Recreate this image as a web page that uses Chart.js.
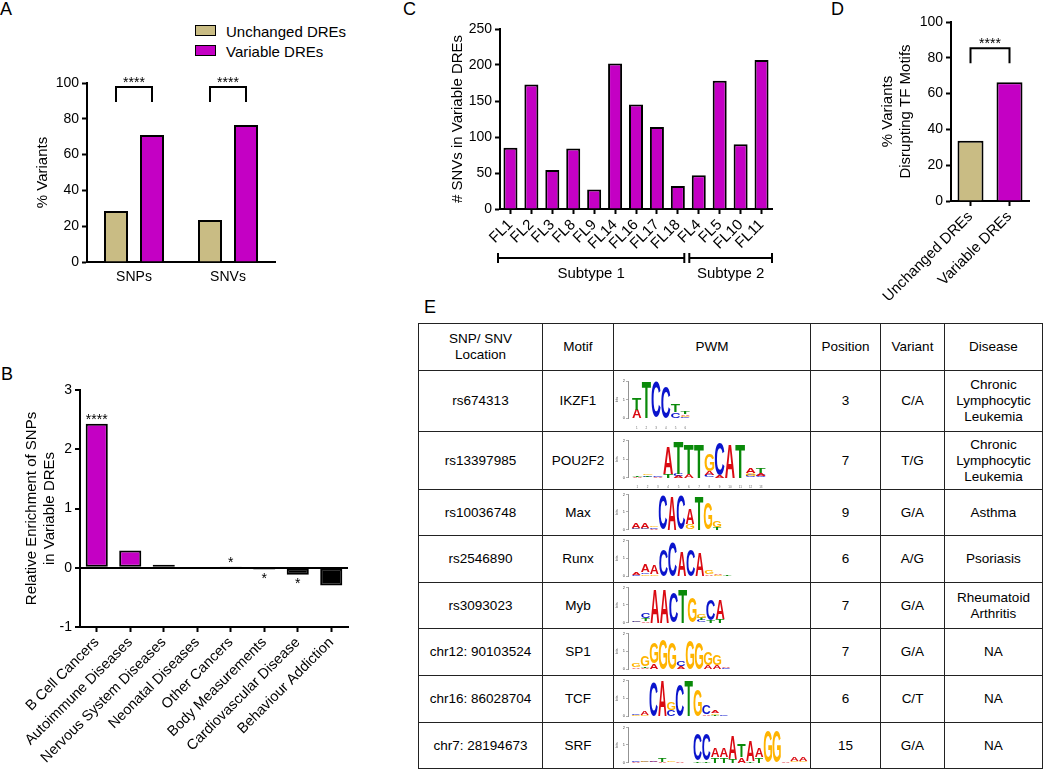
<!DOCTYPE html>
<html>
<head>
<meta charset="utf-8">
<script src="https://cdn.jsdelivr.net/npm/chart.js@4.4.0/dist/chart.umd.min.js"></script>
<style>
  body { margin: 0; background: #fff; width: 1050px; height: 771px; position: relative; overflow: hidden;
         font-family: 'Liberation Sans', Arial, Helvetica, sans-serif; color: #000; }
  canvas { position: absolute; }
  .panel { position: absolute; font-size: 18px; line-height: 18px; }
  .leg { position: absolute; font-size: 15px; line-height: 15px; white-space: nowrap; }
  .box { position: absolute; width: 19px; height: 9px; border: 1.5px solid #000; }
  table { position: absolute; left: 418px; top: 323px; border-collapse: collapse; table-layout: fixed;
          font-size: 13.5px; }
  td { border: 1.5px solid #222; text-align: center; vertical-align: middle; padding: 0; line-height: 16px; }
</style>
</head>
<body>
<div class="panel" style="left:0px;top:0px">A</div>
<div class="panel" style="left:403px;top:0px">C</div>
<div class="panel" style="left:831px;top:0px">D</div>
<div class="panel" style="left:1px;top:365px">B</div>
<div class="panel" style="left:424px;top:298px">E</div>

<div class="box" style="left:195px;top:25px;background:#C9BC84"></div>
<div class="leg" style="left:226px;top:24px">Unchanged DREs</div>
<div class="box" style="left:195px;top:45px;background:#C400C4"></div>
<div class="leg" style="left:226px;top:44px">Variable DREs</div>

<script>
// ---- data ----
const panelA_categories = ['SNPs', 'SNVs'];
const panelA_unchanged = [28.5, 23.5];
const panelA_variable = [71, 76.5];
const panelA_significance = ['****', '****'];

const panelB_categories = ['B Cell Cancers', 'Autoimmune Diseases', 'Nervous System Diseases', 'Neonatal Diseases',
  'Other Cancers', 'Body Measurements', 'Cardiovascular Disease', 'Behaviour Addiction'];
const panelB_values = [2.43, 0.29, 0.05, 0.015, 0.01, -0.03, -0.12, -0.30];
const panelB_significance = ['****', '', '', '', '*', '*', '*', ''];

const panelC_samples = ['FL1', 'FL2', 'FL3', 'FL8', 'FL9', 'FL14', 'FL16', 'FL17', 'FL18', 'FL4', 'FL5', 'FL10', 'FL11'];
const panelC_values = [85, 173, 54, 84, 27, 202, 145, 114, 32, 47, 178, 90, 207];
const subtypeLabels = ['Subtype 1', 'Subtype 2'];
const subtypeStart = [0, 9];
const subtypeEnd = [8, 12];

const panelD_categories = ['Unchanged DREs', 'Variable DREs'];
const panelD_values = [33.6, 66.4];
const panelD_significance = '****';

const tableHeader = ['SNP/ SNV\nLocation', 'Motif', 'PWM', 'Position', 'Variant', 'Disease'];
const snpLocations = ['rs674313', 'rs13397985', 'rs10036748', 'rs2546890', 'rs3093023',
  'chr12: 90103524', 'chr16: 86028704', 'chr7: 28194673'];
const motifNames = ['IKZF1', 'POU2F2', 'Max', 'Runx', 'Myb', 'SP1', 'TCF', 'SRF'];
const motifPositions = [3, 7, 9, 6, 7, 7, 6, 15];
const variants = ['C/A', 'T/G', 'G/A', 'A/G', 'G/A', 'G/A', 'C/T', 'G/A'];
const diseases = ['Chronic\nLymphocytic\nLeukemia', 'Chronic\nLymphocytic\nLeukemia', 'Asthma', 'Psoriasis',
  'Rheumatoid\nArthritis', 'NA', 'NA', 'NA'];

// sequence logos, bits per letter in each column
const logoIKZF1 = [{A:.45,T:.6},{T:1.95},{C:1.95},{C:1.7},{C:.3,T:.4},{A:.08,C:.05,G:.07,T:.1}];
const logoPOU2F2 = [{A:.03,T:.03},{G:.08,C:.05,T:.07},{A:.03,C:.03},{T:.2,A:1.5},{A:.1,C:.1,T:1.75},{A:.2,T:1.6},
  {T:1.85},{A:.2,C:.15,G:.9},{A:.1,C:1.75},{A:1.85},{T:1.85},{C:.1,G:.15,A:.3},{C:.1,A:.12,T:.25}];
const logoMax = [{G:.05,C:.05,A:.3},{G:.05,C:.05,A:.3},{A:.05,C:.07,G:.08},{C:1.95},{A:1.95},{C:1.95},
  {G:.3,A:.9},{T:1.95},{G:1.5},{T:.15,G:.35}];
const logoRunx = [{C:.05,A:.15},{G:.1,C:.1,A:.4},{G:.1,A:.5},{C:1.5},{C:1.95},{A:1.4},{C:1.5},{A:1.3},
  {A:.1,G:.25},{G:.05,A:.08},{T:.03}];
const logoMyb = [{G:.05,C:.05},{A:.08,T:.15,C:.3},{A:1.95},{A:1.95},{C:1.7},{T:1.95},{G:1.4},{C:.12,T:.12,G:.2},
  {T:.15,C:1.2},{T:.2,A:1.1}];
const logoSP1 = [{A:.1,G:.25},{A:.08,T:.1,G:.6},{A:.3,G:1.2},{G:1.7},{G:1.5},{A:.15,C:.3},{G:1.6},{G:1.5},
  {A:.2,G:.7},{A:.2,G:.6},{C:.08,A:.1}];
const logoTCF = [{G:.05,C:.07},{G:.07,A:.2},{C:1.95},{A:1.95},{C:.35,G:.45},{C:1.8},{T:1.95},{G:1.5},
  {A:.1,C:.5},{T:.08,G:.08,A:.15},{C:.03}];
const logoSRF = [{A:.03,C:.03},{C:.03,G:.04},{C:.05,A:.06},{A:.05,T:.2},{G:.1},{A:.03},{T:.02},{T:.1,C:1.5},
  {T:.1,C:1.5},{T:.3,A:.5},{T:.3,A:.5},{T:.2,A:1.3},{A:.3,T:.7},{T:.1,A:1.2},{T:.3,A:.5},{G:1.8},{G:1.8},
  {A:.03},{G:.1,A:.25},{G:.1,A:.25}];
const motifLogos = [logoIKZF1, logoPOU2F2, logoMax, logoRunx, logoMyb, logoSP1, logoTCF, logoSRF];

// ---- styles ----
const TAN = '#C9BC84';
const MAGENTA = '#C400C4';
const FONT = "'Liberation Sans', Arial, Helvetica, sans-serif";
const LETTER_COLORS = {A: '#DA0A12', C: '#0A14CC', G: '#FFB400', T: '#0A8A0A'};
const logoColumnWidth = [9.7, 10.3, 9, 9.1, 9.3, 9, 8.8, 8.8];
const tableColumnWidths = [124, 71, 197, 70, 64, 98];
const tableRowHeights = [47, 61, 58, 46, 47, 46, 47, 47, 46];

Chart.defaults.font.family = FONT;
Chart.defaults.color = '#000';
Chart.defaults.animation = false;

function makeCanvas(left, top, w, h) {
  const c = document.createElement('canvas');
  c.width = w; c.height = h;
  c.style.left = left + 'px'; c.style.top = top + 'px';
  c.style.width = w + 'px'; c.style.height = h + 'px';
  document.body.appendChild(c);
  return c;
}

function yAxis(o) {
  return {
    min: o.min, max: o.max,
    ticks: {stepSize: o.step, font: {size: 14}, color: '#000', padding: 3},
    grid: Object.assign({drawOnChartArea: false, drawTicks: true, tickLength: 5, tickColor: '#000', tickWidth: 2}, o.grid || {}),
    border: {display: true, color: '#000', width: 2},
    title: {display: true, text: o.title, font: {size: 15}, color: '#000', padding: {top: o.titlePad, bottom: 0}},
    afterFit: s => { s.width = o.width; }
  };
}

function xAxis(o) {
  return {
    ticks: {font: {size: o.font}, color: '#000', padding: o.pad, autoSkip: false, minRotation: o.rot, maxRotation: o.rot},
    grid: {offset: false, drawOnChartArea: false, drawTicks: o.ticks, tickLength: 5, tickColor: '#000', tickWidth: 2},
    border: {display: true, color: '#000', width: 2},
    afterFit: s => { s.height = o.height; }
  };
}

function drawStars(ctx, label, x, cy) {
  if (!label) return;
  ctx.save();
  ctx.font = '14px ' + FONT;
  ctx.fillStyle = '#000';
  ctx.textAlign = 'center';
  ctx.textBaseline = 'alphabetic';
  const m = ctx.measureText(label);
  ctx.fillText(label, x, cy + (m.actualBoundingBoxAscent - m.actualBoundingBoxDescent) / 2);
  ctx.restore();
}

function drawBracket(ctx, x1, x2, yTop, yLeg, label) {
  ctx.save();
  ctx.strokeStyle = '#000';
  ctx.lineWidth = 2;
  ctx.beginPath();
  ctx.moveTo(x1, yLeg); ctx.lineTo(x1, yTop); ctx.lineTo(x2, yTop); ctx.lineTo(x2, yLeg);
  ctx.stroke();
  ctx.restore();
  drawStars(ctx, label, (x1 + x2) / 2, yTop - 7);
}

const barStyle = {borderColor: '#000', borderWidth: 2, borderSkipped: 'start'};

// ---- panel A ----
new Chart(makeCanvas(0, 60, 290, 240), {
  type: 'bar',
  data: {
    labels: panelA_categories,
    datasets: [
      Object.assign({label: 'Unchanged DREs', data: panelA_unchanged, backgroundColor: TAN}, barStyle),
      Object.assign({label: 'Variable DREs', data: panelA_variable, backgroundColor: MAGENTA}, barStyle)
    ]
  },
  options: {
    responsive: false, devicePixelRatio: 1,
    layout: {padding: {top: 23, right: 15, left: 0, bottom: 0}},
    plugins: {legend: {display: false}, tooltip: {enabled: false}},
    datasets: {bar: {categoryPercentage: 0.766, barPercentage: 0.667}},
    scales: {
      x: xAxis({font: 14, pad: 7, rot: 0, ticks: false, height: 38}),
      y: yAxis({min: 0, max: 100, step: 20, title: '% Variants', titlePad: 34, width: 87})
    }
  },
  plugins: [{
    id: 'bracketsA',
    afterDatasetsDraw(chart) {
      const y = chart.scales.y;
      const m0 = chart.getDatasetMeta(0), m1 = chart.getDatasetMeta(1);
      panelA_categories.forEach((c, i) => {
        drawBracket(chart.ctx, m0.data[i].x, m1.data[i].x, y.getPixelForValue(97.8), y.getPixelForValue(89.4), panelA_significance[i]);
      });
    }
  }]
});

// ---- panel C ----
new Chart(makeCanvas(400, 10, 385, 290), {
  type: 'bar',
  data: {
    labels: panelC_samples,
    datasets: [Object.assign({data: panelC_values, backgroundColor: MAGENTA}, barStyle)]
  },
  options: {
    responsive: false, devicePixelRatio: 1,
    layout: {padding: {top: 19, right: 13, left: 0, bottom: 0}},
    plugins: {legend: {display: false}, tooltip: {enabled: false}},
    datasets: {bar: {categoryPercentage: 1, barPercentage: 0.67}},
    scales: {
      x: xAxis({font: 15, pad: 2, rot: 45, ticks: true, height: 91}),
      y: yAxis({min: 0, max: 250, step: 50, title: '# SNVs in Variable DREs', titlePad: 49, width: 100})
    }
  },
  plugins: [{
    id: 'subtypes',
    afterDraw(chart) {
      const x = chart.scales.x, area = chart.chartArea, ctx = chart.ctx;
      const half = (x.getPixelForValue(1) - x.getPixelForValue(0)) / 2;
      const yLine = area.bottom + 49;
      ctx.save();
      ctx.strokeStyle = '#000';
      ctx.lineWidth = 2;
      ctx.fillStyle = '#000';
      ctx.font = '15px ' + FONT;
      ctx.textAlign = 'center';
      ctx.textBaseline = 'middle';
      subtypeLabels.forEach((lab, g) => {
        const a = subtypeStart[g], b = subtypeEnd[g];
        let x1 = x.getPixelForValue(a) - half + (a > 0 ? 1 : -2);
        let x2 = x.getPixelForValue(b) + half - (b < panelC_samples.length - 1 ? 4 : 0);
        ctx.beginPath();
        ctx.moveTo(x1, yLine); ctx.lineTo(x2, yLine);
        ctx.moveTo(x1, yLine - 5); ctx.lineTo(x1, yLine + 5);
        ctx.moveTo(x2, yLine - 5); ctx.lineTo(x2, yLine + 5);
        ctx.stroke();
        ctx.fillText(lab, (x1 + x2) / 2, yLine + 16);
      });
      ctx.restore();
    }
  }]
});

// ---- panel D ----
new Chart(makeCanvas(860, 0, 185, 320), {
  type: 'bar',
  data: {
    labels: panelD_categories,
    datasets: [Object.assign({data: panelD_values, backgroundColor: [TAN, MAGENTA]}, barStyle)]
  },
  options: {
    responsive: false, devicePixelRatio: 1,
    layout: {padding: {top: 22, right: 16, left: 0, bottom: 0}},
    plugins: {legend: {display: false}, tooltip: {enabled: false}},
    datasets: {bar: {categoryPercentage: 1, barPercentage: 0.667}},
    scales: {
      x: xAxis({font: 15, pad: 2, rot: 45, ticks: true, height: 119}),
      y: yAxis({min: 0, max: 100, step: 20, title: ['% Variants', 'Disrupting TF Motifs'], titlePad: 19, width: 91})
    }
  },
  plugins: [{
    id: 'bracketD',
    afterDatasetsDraw(chart) {
      const y = chart.scales.y, m = chart.getDatasetMeta(0);
      drawBracket(chart.ctx, m.data[0].x, m.data[1].x, y.getPixelForValue(85.4), y.getPixelForValue(77), panelD_significance);
    }
  }]
});

// ---- panel B ----
new Chart(makeCanvas(0, 370, 400, 400), {
  type: 'bar',
  data: {
    labels: panelB_categories,
    datasets: [{
      data: panelB_values,
      backgroundColor: panelB_values.map(v => v >= 0 ? MAGENTA : '#000'),
      borderColor: '#000', borderWidth: 2, borderSkipped: false
    }]
  },
  options: {
    responsive: false, devicePixelRatio: 1,
    layout: {padding: {top: 20, right: 52, left: 0, bottom: 0}},
    plugins: {legend: {display: false}, tooltip: {enabled: false}},
    datasets: {bar: {categoryPercentage: 1, barPercentage: 0.66}},
    scales: {
      x: xAxis({font: 14.5, pad: 2, rot: 45, ticks: true, height: 143}),
      y: yAxis({min: -1, max: 3, step: 1, title: ['Relative Enrichment of SNPs', 'in Variable DREs'], titlePad: 23, width: 80,
        grid: {drawOnChartArea: true, lineWidth: 2, color: c => (c.tick && c.tick.value === 0) ? '#000' : 'rgba(0,0,0,0)'}})
    }
  },
  plugins: [{
    id: 'starsB',
    afterDatasetsDraw(chart) {
      const y = chart.scales.y, m = chart.getDatasetMeta(0);
      panelB_values.forEach((v, i) => {
        const bar = m.data[i];
        if (v >= 0) drawStars(chart.ctx, panelB_significance[i], bar.x, y.getPixelForValue(v) - 7);
        else drawStars(chart.ctx, panelB_significance[i], bar.x, y.getPixelForValue(v) + 6);
      });
    }
  }]
});

// ---- panel E: table ----
const table = document.createElement('table');
const colgroup = document.createElement('colgroup');
tableColumnWidths.forEach(w => {
  const col = document.createElement('col');
  col.style.width = w + 'px';
  colgroup.appendChild(col);
});
table.appendChild(colgroup);
function addRow(cells, h) {
  const tr = document.createElement('tr');
  tr.style.height = h + 'px';
  cells.forEach(t => {
    const td = document.createElement('td');
    String(t).split('\n').forEach((line, k) => {
      if (k) td.appendChild(document.createElement('br'));
      td.appendChild(document.createTextNode(line));
    });
    tr.appendChild(td);
  });
  table.appendChild(tr);
  return tr;
}
addRow(tableHeader, tableRowHeights[0]);
const pwmCells = [];
snpLocations.forEach((s, i) => {
  const tr = addRow([s, motifNames[i], '', motifPositions[i], variants[i], diseases[i]], tableRowHeights[i + 1]);
  pwmCells.push(tr.children[2]);
});
document.body.appendChild(table);

// ---- sequence logos ----
function drawLetter(ctx, letter, x0, yTop, w, h) {
  if (h <= 0.2) return;
  ctx.save();
  ctx.font = 'bold 100px ' + FONT;
  ctx.textAlign = 'left';
  ctx.textBaseline = 'alphabetic';
  const m = ctx.measureText(letter);
  const gw = m.actualBoundingBoxLeft + m.actualBoundingBoxRight;
  const gh = m.actualBoundingBoxAscent + m.actualBoundingBoxDescent;
  const sx = w / gw, sy = h / gh;
  ctx.translate(x0 + m.actualBoundingBoxLeft * sx, yTop + h - m.actualBoundingBoxDescent * sy);
  ctx.scale(sx, sy);
  ctx.fillStyle = LETTER_COLORS[letter];
  ctx.fillText(letter, 0, 0);
  ctx.restore();
}

// one plugin per logo, the columns are kept in the closure (not in chart options)
function logoLetters(cols) {
  return {
    id: 'logoLetters',
    afterDatasetsDraw(chart) {
      const x = chart.scales.x, y = chart.scales.y, ctx = chart.ctx;
      const w = (x.getPixelForValue(2) - x.getPixelForValue(1)) * 0.94;
      cols.forEach((col, i) => {
        const entries = Object.keys(col).map(k => [k, col[k]]).sort((a, b) => a[1] - b[1]);
        const cx = x.getPixelForValue(i + 1);
        let cum = 0;
        entries.forEach(([letter, h]) => {
          const yb = y.getPixelForValue(cum), yt = y.getPixelForValue(cum + h);
          drawLetter(ctx, letter, cx - w / 2, yt, w, yb - yt);
          cum += h;
        });
      });
    }
  };
}

pwmCells.forEach((td, i) => {
  const r = td.getBoundingClientRect();
  const cols = motifLogos[i];
  const posW = logoColumnWidth[i];
  const cl = Math.round(r.left) + 1, ct = Math.round(r.top) + 1;
  const cw = Math.round(r.width) - 2, ch = Math.round(r.height) - 2;
  const centerY = r.top + r.height / 2 - 1;
  const yW = 13;
  const plotW = (cols.length + 0.4) * posW;
  const padTop = (centerY - 19) - ct;
  const xH = (ct + ch) - (centerY + 18);
  new Chart(makeCanvas(cl, ct, cw, ch), {
    type: 'scatter',
    data: {datasets: [{data: [], pointRadius: 0, pointStyle: false}]},
    options: {
      responsive: false, devicePixelRatio: 1,
      layout: {padding: {top: padTop, right: cw - yW - plotW, left: 0, bottom: 0}},
      plugins: {legend: {display: false}, tooltip: {enabled: false}},
      scales: {
        x: {
          type: 'linear', min: 0.1, max: cols.length + 0.5,
          ticks: {stepSize: 1, includeBounds: false, font: {size: 3}, color: '#666', padding: 0, maxRotation: 0, autoSkip: false},
          grid: {display: false}, border: {display: false},
          afterFit: s => { s.height = xH; }
        },
        y: {
          min: 0, max: 2,
          ticks: {stepSize: 1, font: {size: 4}, color: '#444', padding: 1},
          grid: {drawOnChartArea: false, tickLength: 2, tickColor: '#777', tickWidth: 0.6},
          border: {display: true, color: '#777', width: 0.8},
          title: {display: true, text: 'bits', font: {size: 3.5}, color: '#555', padding: 0},
          afterFit: s => { s.width = yW; }
        }
      }
    },
    plugins: [logoLetters(cols)]
  });
});
</script>
</body>
</html>
